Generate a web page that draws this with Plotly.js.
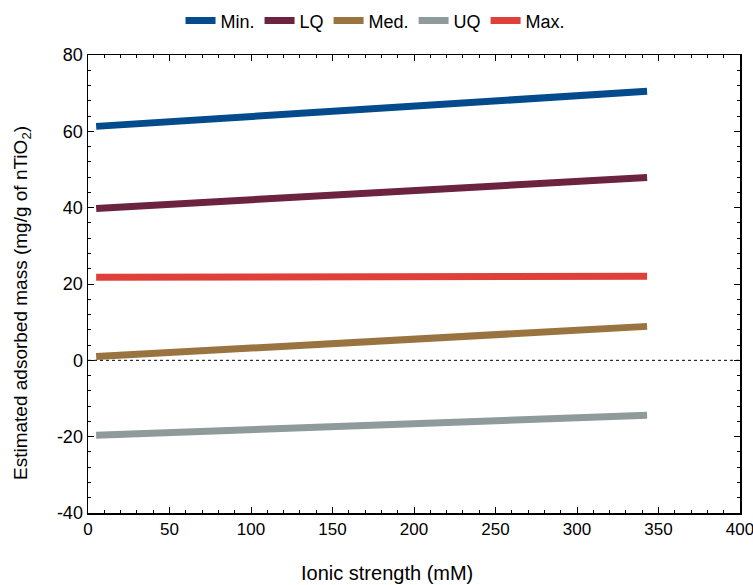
<!DOCTYPE html>
<html><head><meta charset="utf-8">
<script src="https://cdn.plot.ly/plotly-3.0.1.min.js"></script>
<style>body{margin:0;padding:0;background:#fff}#chart{width:753px;height:585px}</style>
</head><body><div id="chart"></div>
<script>
var seriesNames = ["Min.", "LQ", "Med.", "UQ", "Max."];
var seriesColors = ["#034b8c", "#6b2340", "#9a7440", "#8f9a9a", "#e0403a"];
var xVals = [5, 343];
var minVals = [61.3, 70.5];
var lqVals = [39.8, 47.9];
var medVals = [1.0, 8.9];
var uqVals = [-19.6, -14.4];
var maxVals = [21.8, 22.0];
var allVals = [minVals, lqVals, medVals, uqVals, maxVals];
var xTickVals = [0, 50, 100, 150, 200, 250, 300, 350, 400];
var xTickText = ["0", "50", "100", "150", "200", "250", "300", "350", "400"];
var yTickVals = [-40, -20, 0, 20, 40, 60, 80];
var yTickText = ["-40", "-20", "0", "20", "40", "60", "80"];
var xTitle = "Ionic strength (mM)";
var yTitle = "Estimated adsorbed mass (mg/g of nTiO<sub>2</sub>)";

var FONT = 'Liberation Sans, Arial, sans-serif';
var traces = seriesNames.map(function(n, i){
  return {x: xVals, y: allVals[i], type:'scatter', mode:'lines', name:n,
    line:{color:seriesColors[i], width:7}};
});

var axisCommon = {
  showline:true, linecolor:'#000', linewidth:1.5, mirror:'allticks',
  ticks:'inside', ticklen:6, tickcolor:'#000', showgrid:false, zeroline:false,
  ticklabeloverflow:'allow',
  tickfont:{family:FONT, size:18, color:'#000'}
};
var layout = {
  width:753, height:585,
  margin:{l:88, r:13, t:55, b:72, autoexpand:false},
  paper_bgcolor:'#fff', plot_bgcolor:'#fff',
  font:{family:FONT, color:'#000'},
  showlegend:true,
  legend:{orientation:'h', x:0.441, xanchor:'center',
    y:1.115, yanchor:'top',
    font:{size:18, color:'#000', family:FONT}},
  xaxis: Object.assign({}, axisCommon, {range:[0,400], tickmode:'array',
    tickvals:xTickVals, ticktext:xTickText,
    tickfont:{family:FONT, size:17, color:'#000'},
    minor:{dtick:10, tick0:0, ticks:'inside', ticklen:3, tickcolor:'#000'}}),
  yaxis: Object.assign({}, axisCommon, {range:[-40,80], tickmode:'array',
    tickvals:yTickVals, ticktext:yTickText,
    minor:{dtick:4, tick0:0, ticks:'inside', ticklen:3, tickcolor:'#000'}}),
  annotations:[
    {text:xTitle, xref:'paper', yref:'paper', x:0.458, y:0, xanchor:'center', yanchor:'middle',
     yshift:-60, showarrow:false, font:{family:FONT, size:20, color:'#000'}},
    {text:yTitle, xref:'paper', yref:'paper', x:0, y:0.4585, xanchor:'center', yanchor:'middle',
     xshift:-66, textangle:-90, showarrow:false, font:{family:FONT, size:19, color:'#000'}}
  ],
  shapes:[{type:'line', xref:'paper', x0:0, x1:1, yref:'y', y0:0, y1:0,
    line:{color:'#000', width:1, dash:'dot'}}]
};
Plotly.newPlot('chart', traces, layout, {displayModeBar:false, staticPlot:true});
</script></body></html>
